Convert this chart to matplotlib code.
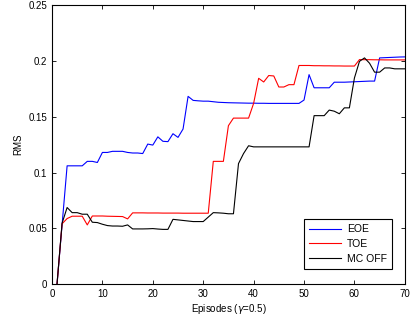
import numpy as np
import matplotlib
matplotlib.use('Agg')
import matplotlib.pyplot as plt
from matplotlib.ticker import FuncFormatter

plt.rcParams['font.family'] = ['Liberation Sans', 'DejaVu Sans']

episodes = np.arange(1, 71)

eoe = [0, 0.053, 0.106, 0.106, 0.106, 0.106, 0.110, 0.110, 0.109, 0.118,
       0.118, 0.119, 0.119, 0.119, 0.118, 0.1175, 0.1175, 0.117, 0.1255, 0.1246,
       0.132, 0.128, 0.1277, 0.1348, 0.1315, 0.139, 0.1683, 0.1647, 0.1643, 0.164,
       0.164, 0.1635, 0.163, 0.1628, 0.1626, 0.1625, 0.1624, 0.1623, 0.1622, 0.1622,
       0.1621, 0.1621, 0.162, 0.162, 0.162, 0.162, 0.162, 0.162, 0.162, 0.165,
       0.1878, 0.176, 0.176, 0.176, 0.176, 0.181, 0.181, 0.181, 0.1812, 0.1814,
       0.1816, 0.1818, 0.182, 0.182, 0.2028, 0.203, 0.2032, 0.2034, 0.2036, 0.2037]

toe = [0, 0.054, 0.0587, 0.0608, 0.0608, 0.0608, 0.053, 0.061, 0.061, 0.061,
       0.0608, 0.0607, 0.0606, 0.0605, 0.0584, 0.0638, 0.0638, 0.0638, 0.0637, 0.0637,
       0.0637, 0.0636, 0.0636, 0.0636, 0.0636, 0.0635, 0.0635, 0.0635, 0.0635, 0.0635,
       0.0635, 0.11, 0.11, 0.11, 0.142, 0.1488, 0.1488, 0.1488, 0.1488, 0.162,
       0.1845, 0.1812, 0.187, 0.1866, 0.1767, 0.1767, 0.1788, 0.1788, 0.196, 0.196,
       0.196, 0.1958, 0.1958, 0.1957, 0.1957, 0.1956, 0.1956, 0.1955, 0.1955, 0.1955,
       0.2013, 0.2012, 0.2012, 0.2011, 0.2011, 0.201, 0.201, 0.201, 0.201, 0.201]

mc_off = [0, 0.0545, 0.0686, 0.064, 0.064, 0.0626, 0.0626, 0.0554, 0.0551, 0.0536,
          0.0524, 0.052, 0.052, 0.0518, 0.053, 0.0494, 0.0494, 0.0494, 0.0495, 0.0497,
          0.0493, 0.049, 0.049, 0.058, 0.0575, 0.057, 0.0565, 0.056, 0.056, 0.056,
          0.06, 0.064, 0.0638, 0.0635, 0.063, 0.063, 0.108, 0.117, 0.124, 0.123,
          0.123, 0.123, 0.123, 0.123, 0.123, 0.123, 0.123, 0.123, 0.123, 0.123,
          0.123, 0.151, 0.151, 0.151, 0.156, 0.155, 0.1527, 0.158, 0.158, 0.1848,
          0.1997, 0.2028, 0.198, 0.19, 0.19, 0.1938, 0.1938, 0.193, 0.193, 0.193]

fig = plt.figure(figsize=(4.11, 3.2), dpi=100)
ax = fig.add_axes([0.1265, 0.1125, 0.8585, 0.871])

ax.plot(episodes, eoe, color='#0000ff', lw=0.8, label='EOE')
ax.plot(episodes, toe, color='#ff0000', lw=0.8, label='TOE')
ax.plot(episodes, mc_off, color='#000000', lw=0.8, label='MC OFF')

ax.set_xlim(0, 70)
ax.set_ylim(0, 0.25)
ax.set_xticks(np.arange(0, 71, 10))
ax.set_yticks([0, 0.05, 0.1, 0.15, 0.2, 0.25])
ax.yaxis.set_major_formatter(FuncFormatter(lambda v, p: '%g' % v))
ax.tick_params(direction='in', top=True, right=True, labelsize=7, length=3, width=0.6)
for s in ax.spines.values():
    s.set_linewidth(0.8)

ax.set_xlabel('Episodes ($\\gamma$=0.5)', fontsize=7, labelpad=2)
ax.set_ylabel('RMS', fontsize=7, labelpad=4)

# legend box placed where the reference has it (lower right, inside)
leg = ax.legend(loc='lower right', bbox_to_anchor=(392 / 411, 51 / 320),
                bbox_transform=fig.transFigure, borderaxespad=0,
                fontsize=7.5, fancybox=False, edgecolor='black', framealpha=1,
                handlelength=3.0, handletextpad=0.6, borderpad=0.5,
                labelspacing=0.45)
leg.get_frame().set_linewidth(0.8)

fig.savefig('out.png', dpi=100)
